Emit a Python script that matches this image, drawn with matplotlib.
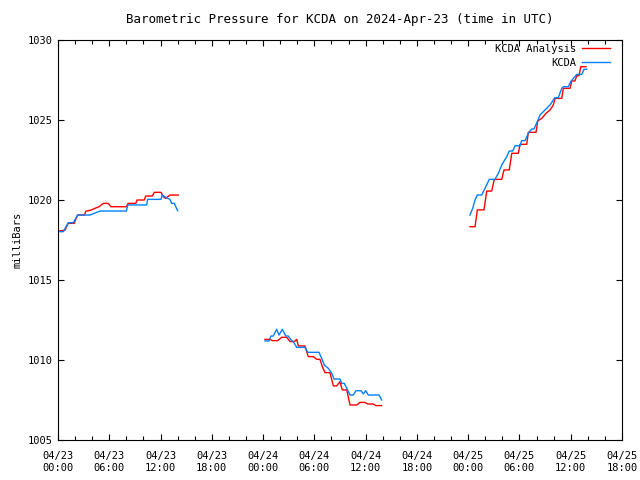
import numpy as np
import matplotlib
matplotlib.use("Agg")
import matplotlib.pyplot as plt

# hours since 2024-04-23 00:00 UTC, NaN separates data gaps
analysis_hours = [0.23, 0.8, 1.0, 1.2, 1.9, 2.07, 2.3, 3.1, 3.25, 3.86, 4.33, 4.8, 5.3, 5.88, 6.2, 8.0,
                  8.2, 9.1, 9.25, 10.1, 10.26, 11.03, 11.27, 12.05, 12.32, 12.6, 13.1, 14.08,
                  np.nan,
                  24.22, 24.81, 25.08, 25.71, 26.18, 26.76, 27.15, 27.65, 27.93, 28.12, 28.91, 29.1,
                  29.29, 29.88, 30.28, 30.66, 30.93, 31.25, 31.83, 32.22, 32.61, 33.0, 33.27, 33.79,
                  34.17, 34.96, 35.34, 35.93, 36.24, 36.9, 37.18, 37.88,
                  np.nan,
                  48.21, 48.8, 49.07, 49.85, 50.17, 50.75, 51.06, 51.93, 52.19, 52.81, 53.1, 53.87,
                  54.07, 54.85, 55.04, 55.94, 56.14, 56.61, 57.11, 57.58, 57.96, 58.16, 58.95, 59.13,
                  59.92, 60.12, 60.5, 60.7, 60.97, 61.17, 61.79]
analysis_mb = [1018.08, 1018.1, 1018.33, 1018.54, 1018.54, 1018.79, 1019.06, 1019.06, 1019.3, 1019.37,
               1019.48, 1019.58, 1019.79, 1019.79, 1019.58, 1019.58, 1019.79, 1019.79, 1020.0, 1020.0,
               1020.25, 1020.25, 1020.48, 1020.48, 1020.21, 1020.1, 1020.31, 1020.31,
               np.nan,
               1011.29, 1011.29, 1011.21, 1011.21, 1011.42, 1011.42, 1011.15, 1011.15, 1011.29, 1010.88,
               1010.88, 1010.52, 1010.21, 1010.21, 1010.04, 1010.04, 1009.58, 1009.21, 1009.21, 1008.38,
               1008.38, 1008.65, 1008.13, 1008.13, 1007.19, 1007.19, 1007.35, 1007.35, 1007.25, 1007.25,
               1007.15, 1007.15,
               np.nan,
               1018.33, 1018.33, 1019.38, 1019.38, 1020.56, 1020.56, 1021.29, 1021.29, 1021.88, 1021.88,
               1022.92, 1022.92, 1023.48, 1023.48, 1024.23, 1024.23, 1024.94, 1025.1, 1025.42, 1025.63,
               1025.94, 1026.35, 1026.35, 1026.98, 1026.98, 1027.44, 1027.44, 1027.77, 1027.77, 1028.33,
               1028.33]

obs_hours = [0.23, 0.62, 1.2, 1.79, 2.3, 3.75, 4.25, 4.92, 8.0, 8.16, 10.37, 10.49, 12.05, 12.2, 12.6,
             13.1, 13.3, 13.6, 14.0,
             np.nan,
             24.22, 24.69, 24.93, 25.2, 25.59, 25.86, 26.25, 26.65, 26.95, 27.27, 27.54, 27.93, 28.91,
             29.22, 30.54, 30.86, 31.16, 31.63, 32.03, 32.3, 33.0, 33.2, 33.5, 33.79, 34.17, 34.56,
             34.87, 35.46, 35.73, 36.01, 36.31, 37.57, 37.88,
             np.nan,
             48.21, 48.53, 48.8, 49.07, 49.58, 49.97, 50.47, 51.14, 51.53, 51.93, 52.51, 52.81, 53.21,
             53.48, 54.06, 54.26, 54.65, 55.04, 55.44, 55.7, 56.09, 56.41, 56.99, 57.58, 57.96, 58.16,
             58.55, 58.95, 59.13, 59.72, 60.0, 60.39, 60.7, 61.29, 61.56, 61.87]
obs_mb = [1018.02, 1018.02, 1018.58, 1018.58, 1019.06, 1019.06, 1019.17, 1019.31, 1019.31, 1019.69,
          1019.69, 1020.04, 1020.04, 1020.31, 1020.17, 1020.04, 1019.79, 1019.79, 1019.33,
          np.nan,
          1011.19, 1011.19, 1011.5, 1011.5, 1011.92, 1011.56, 1011.92, 1011.5, 1011.5, 1011.25, 1011.15,
          1010.79, 1010.79, 1010.48, 1010.48, 1010.1, 1009.69, 1009.48, 1009.17, 1008.81, 1008.81,
          1008.54, 1008.54, 1008.23, 1007.81, 1007.81, 1008.08, 1008.08, 1007.88, 1008.08, 1007.81,
          1007.81, 1007.5,
          np.nan,
          1019.06, 1019.48, 1020.0, 1020.31, 1020.31, 1020.73, 1021.29, 1021.29, 1021.67, 1022.19,
          1022.71, 1023.06, 1023.06, 1023.39, 1023.39, 1023.71, 1023.71, 1024.17, 1024.44, 1024.44,
          1024.9, 1025.31, 1025.63, 1025.94, 1026.25, 1026.4, 1026.4, 1026.98, 1027.08, 1027.08,
          1027.4, 1027.65, 1027.85, 1027.85, 1028.17, 1028.17]

xtick_hours = [0, 6, 12, 18, 24, 30, 36, 42, 48, 54, 60, 66]
xtick_labels = ["04/23\n00:00", "04/23\n06:00", "04/23\n12:00", "04/23\n18:00",
                "04/24\n00:00", "04/24\n06:00", "04/24\n12:00", "04/24\n18:00",
                "04/25\n00:00", "04/25\n06:00", "04/25\n12:00", "04/25\n18:00"]
yticks = [1005, 1010, 1015, 1020, 1025, 1030]

plt.rcParams['font.family'] = ['DejaVu Sans Mono']
plt.rcParams['font.size'] = 7.5

fig = plt.figure(figsize=(6.4, 4.8), dpi=100)
ax = fig.add_axes([58/640, 40/480, 564/640, 400/480])

ax.plot(analysis_hours, analysis_mb, color='#ff0000', lw=1, label='KCDA Analysis')
ax.plot(obs_hours, obs_mb, color='#0080ff', lw=1, label='KCDA')

ax.set_xlim(0, 66)
ax.set_ylim(1005, 1030)
ax.set_xticks(xtick_hours)
ax.set_xticklabels(xtick_labels)
ax.set_xticks(np.arange(0, 67, 2), minor=True)
ax.set_yticks(yticks)
ax.tick_params(which='both', direction='in', top=True, right=True, length=4, width=0.8)
ax.tick_params(which='minor', length=3)
ax.tick_params(axis='x', pad=8)

ax.set_ylabel("milliBars")
ax.set_title("Barometric Pressure for KCDA on 2024-Apr-23 (time in UTC)", pad=12)

ax.legend(loc='upper right', frameon=False, markerfirst=False, handlelength=2.7,
          handletextpad=0.6, borderaxespad=0, borderpad=0, labelspacing=0.35,
          bbox_to_anchor=(0.979, 0.99))

fig.savefig("out.png", dpi=100)
